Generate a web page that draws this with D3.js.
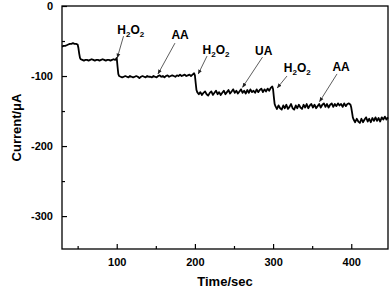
<!DOCTYPE html>
<html>
<head>
<meta charset="utf-8">
<script src="https://cdn.jsdelivr.net/npm/d3@7"></script>
<style>
  body { margin: 0; background: #fff; }
  svg text { font-family: "Liberation Sans", Arial, sans-serif; font-weight: bold; fill: #000; }
  .axis text { font-size: 11px; }
  .axis line { stroke: #000; stroke-width: 1.2; }
</style>
</head>
<body>
<svg id="chart" width="392" height="290"></svg>
<script>
// time in seconds, current in microamps
var time = [30,32,34,36,38,40,42,44,46,48,50,51,52,53,54,
  56,58,60,62,64,66,68,70,72,74,76,78,80,82,84,86,88,90,92,94,96,98,99,100,101,102,103,
  105,107,109,111,113,115,117,119,121,123,125,127,129,131,133,135,137,139,141,143,145,147,149,151,153,155,157,159,161,163,165,167,169,171,173,175,177,179,181,183,185,187,189,191,193,195,197,199,200,201,202,203,
  205,207,209,211,213,215,217,219,221,223,225,227,229,231,233,235,237,239,241,243,245,247,249,251,253,255,257,259,261,263,265,267,269,271,273,275,277,279,281,283,285,287,289,291,293,295,297,299,300,301,302,303,
  305,307,309,311,313,315,317,319,321,323,325,327,329,331,333,335,337,339,341,343,345,347,349,351,353,355,357,359,361,363,365,367,369,371,373,375,377,379,381,383,385,387,389,391,393,395,397,399,400,401,402,403,
  405,407,409,411,413,415,417,419,421,423,425,427,429,431,433,435,437,439,441,443,445,447];
var current = [-58,-57,-57,-56,-55,-54,-54,-53,-54,-54,-55,-60,-68,-74,-76,
  -77,-78,-77,-77,-78,-77,-76,-77,-78,-77,-77,-78,-77,-76,-77,-78,-77,-77,-78,-77,-76,-77,-76,-74,-86,-97,-100,
  -101,-102,-101,-100,-101,-102,-100,-101,-102,-101,-100,-101,-103,-101,-100,-101,-102,-100,-101,-101,-102,-100,-101,-102,-100,-99,-101,-100,-102,-100,-99,-101,-100,-99,-100,-101,-99,-100,-98,-100,-99,-98,-100,-99,-98,-100,-98,-96,-99,-110,-120,-123,
  -126,-123,-127,-124,-122,-126,-128,-124,-122,-127,-124,-121,-126,-123,-127,-124,-121,-126,-123,-120,-125,-122,-119,-124,-121,-125,-122,-119,-124,-121,-125,-120,-124,-119,-123,-121,-124,-119,-123,-120,-118,-123,-119,-122,-118,-121,-117,-115,-119,-130,-140,-143,
  -147,-142,-146,-148,-142,-146,-141,-147,-144,-140,-146,-148,-142,-146,-141,-145,-147,-141,-145,-140,-146,-142,-140,-145,-141,-146,-143,-140,-145,-141,-139,-144,-140,-145,-141,-139,-144,-140,-143,-139,-142,-140,-144,-139,-143,-140,-139,-141,-145,-152,-159,-162,
  -166,-161,-165,-167,-161,-166,-162,-159,-165,-161,-166,-160,-164,-159,-164,-160,-165,-159,-162,-158,-162,-159];

// annotations: label, label baseline (t, I), arrow start (t, I), arrow tip (t, I)
var noteLabels = ["H2O2", "AA", "H2O2", "UA", "H2O2", "AA"];
var noteLabelAt = [[118, -40], [181, -47], [227, -68.5], [288, -70], [331, -94], [387, -93]];
var noteFrom = [[108.7, -43], [174.5, -53], [215.5, -71.5], [286.5, -73], [317.8, -100], [381.8, -97]];
var noteTip = [[100.7, -74], [152.8, -97], [204.3, -97], [261, -116], [305.4, -117], [359.5, -136.5]];

var xTicks = [100, 200, 300, 400];
var xMinor = [50, 150, 250, 350];
var yTicks = [0, -100, -200, -300];
var yMinor = [-50, -150, -250];

var svg = d3.select("#chart");
var mLeft = 62, mRight = 388, mTop = 6, mBottom = 249;

var x = d3.scaleLinear().domain([30, 447]).range([mLeft, mRight]);
var y = d3.scaleLinear().domain([-347, 0]).range([mBottom, mTop]);

// plain hyphen minus like the original
var fmt = function(d) { return String(d); };

// minor ticks first (no labels)
svg.append("g").attr("class", "axis")
  .attr("transform", "translate(0," + mBottom + ")")
  .call(d3.axisBottom(x).tickValues(xMinor).tickSizeInner(-3).tickSizeOuter(0).tickFormat(""))
  .call(function(g) { g.select(".domain").remove(); });
svg.append("g").attr("class", "axis")
  .attr("transform", "translate(" + mLeft + ",0)")
  .call(d3.axisLeft(y).tickValues(yMinor).tickSizeInner(-3).tickSizeOuter(0).tickFormat(""))
  .call(function(g) { g.select(".domain").remove(); });

// major ticks
svg.append("g").attr("class", "axis")
  .attr("transform", "translate(0," + mBottom + ")")
  .call(d3.axisBottom(x).tickValues(xTicks).tickSizeInner(-5).tickSizeOuter(0).tickPadding(9).tickFormat(fmt))
  .call(function(g) { g.select(".domain").remove(); });
svg.append("g").attr("class", "axis")
  .attr("transform", "translate(" + mLeft + ",0)")
  .call(d3.axisLeft(y).tickValues(yTicks).tickSizeInner(-5).tickSizeOuter(0).tickPadding(9).tickFormat(fmt))
  .call(function(g) { g.select(".domain").remove(); });

// frame
svg.append("rect")
  .attr("x", mLeft).attr("y", mTop)
  .attr("width", mRight - mLeft).attr("height", mBottom - mTop)
  .attr("fill", "none").attr("stroke", "#000").attr("stroke-width", 1.3);

// the trace
var pts = time.map(function(t, i) { return [t, current[i]]; });
var line = d3.line().x(function(d) { return x(d[0]); }).y(function(d) { return y(d[1]); });
svg.append("path")
  .datum(pts)
  .attr("d", line)
  .attr("fill", "none")
  .attr("stroke", "#000")
  .attr("stroke-width", 1.8)
  .attr("stroke-linejoin", "round");

// arrowhead
svg.append("defs").append("marker")
  .attr("id", "head")
  .attr("viewBox", "0 0 10 10")
  .attr("refX", 9).attr("refY", 5)
  .attr("markerWidth", 6).attr("markerHeight", 6)
  .attr("orient", "auto")
  .append("path").attr("d", "M0,1 L10,5 L0,9 z").attr("fill", "#222");

noteLabels.forEach(function(lbl, i) {
  svg.append("line")
    .attr("x1", x(noteFrom[i][0])).attr("y1", y(noteFrom[i][1]))
    .attr("x2", x(noteTip[i][0])).attr("y2", y(noteTip[i][1]))
    .attr("stroke", "#333").attr("stroke-width", 0.8)
    .attr("marker-end", "url(#head)");
  var t = svg.append("text")
    .attr("x", x(noteLabelAt[i][0])).attr("y", y(noteLabelAt[i][1]))
    .attr("text-anchor", "middle")
    .style("font-size", "12px");
  if (lbl === "H2O2") {
    t.append("tspan").text("H");
    t.append("tspan").text("2").attr("dy", 3).style("font-size", "8px");
    t.append("tspan").text("O").attr("dy", -3);
    t.append("tspan").text("2").attr("dy", 3).style("font-size", "8px");
  } else {
    t.text(lbl);
  }
});

// axis titles
svg.append("text")
  .attr("x", (mLeft + mRight) / 2).attr("y", 286)
  .attr("text-anchor", "middle")
  .style("font-size", "13px")
  .text("Time/sec");
svg.append("text")
  .attr("transform", "translate(21," + ((mTop + mBottom) / 2) + ") rotate(-90)")
  .attr("text-anchor", "middle")
  .style("font-size", "13px")
  .text("Current/\u03bcA");
</script>
</body>
</html>
